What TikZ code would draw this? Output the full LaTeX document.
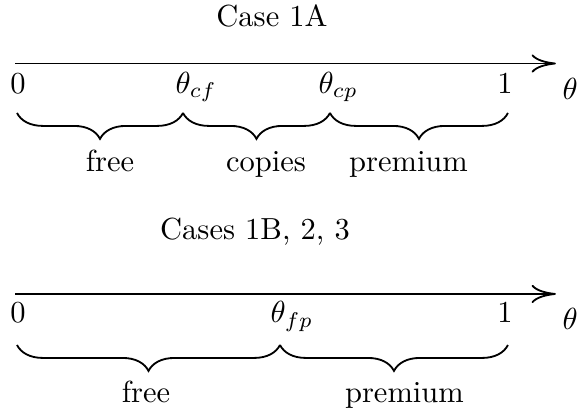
\documentclass[tikz,border=0pt]{standalone}
\usepackage{amsmath}
\usetikzlibrary{arrows.meta,decorations.pathreplacing,positioning}
\tikzset{
    timeline/.style={-{To[length=8pt, width=6pt]}, semithick},
    part/.style={decorate, decoration={brace, mirror, amplitude=8.5pt}, semithick},
    ticklabel/.style={anchor=base, inner sep=0pt},
    thetalabel/.style={anchor=base west, inner sep=0pt}
}

\begin{document}
\begin{tikzpicture}
    \useasboundingbox (0,0) rectangle (6.65,-4.77);

    % Case 1A
    \node[ticklabel] (titleA) at (3.135,-0.300) {Case 1A};
    \coordinate (startA) at (0.173,-0.732);
    \coordinate (endA) at (6.407,-0.732);
    \draw[timeline] (startA) -- (endA);

    \node[ticklabel] (zeroA) at (0.207,-1.072) {$0$};
    \node[thetalabel] (cf) at (2.017,-1.072) {$\theta_{cf}$};
    \node[thetalabel] (cp) at (3.665,-1.072) {$\theta_{cp}$};
    \node[ticklabel] (oneA) at (5.820,-1.072) {$1$};
    \node[thetalabel] (thetaA) at (6.477,-1.152) {$\theta$};

    \coordinate (bA0) at (0.196,-1.302);
    \coordinate (bA1) at (2.109,-1.302);
    \coordinate (bA2) at (3.803,-1.302);
    \coordinate (bA3) at (5.854,-1.302);
    \draw[part] (bA0) -- (bA1);
    \draw[part] (bA1) -- (bA2);
    \draw[part] (bA2) -- (bA3);

    \node[ticklabel] (freeA) at (1.268,-1.982) {free};
    \node[ticklabel] (copiesA) at (3.065,-1.982) {copies};
    \node[ticklabel] (premiumA) at (4.708,-1.982) {premium};

    % Cases 1B, 2, 3
    \node[ticklabel] (titleB) at (2.939,-2.766) {Cases 1B, 2, 3};
    \coordinate (startB) at (0.173,-3.388);
    \coordinate (endB) at (6.407,-3.388);
    \draw[timeline] (startB) -- (endB);

    \node[ticklabel] (zeroB) at (0.207,-3.722) {$0$};
    \node[thetalabel] (fp) at (3.111,-3.722) {$\theta_{fp}$};
    \node[ticklabel] (oneB) at (5.820,-3.722) {$1$};
    \node[thetalabel] (thetaB) at (6.477,-3.803) {$\theta$};

    \coordinate (bB0) at (0.196,-3.976);
    \coordinate (bB1) at (3.227,-3.976);
    \coordinate (bB2) at (5.854,-3.976);
    \draw[part] (bB0) -- (bB1);
    \draw[part] (bB1) -- (bB2);

    \node[ticklabel] (freeB) at (1.683,-4.644) {free};
    \node[ticklabel] (premiumB) at (4.661,-4.644) {premium};
\end{tikzpicture}
\end{document}
